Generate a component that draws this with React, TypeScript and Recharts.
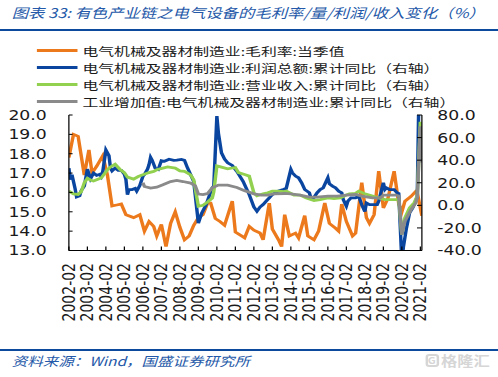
import React from 'react';
import { LineChart, Line, XAxis, YAxis } from 'recharts';

// ---------- data ----------
const marginDates = ['2002-02','2002-05','2002-08','2002-12','2003-03','2003-05','2003-08','2003-12','2004-03','2004-06','2004-09','2004-12','2005-03','2005-08','2005-12','2006-03','2006-06','2006-09','2006-11','2007-02','2007-05','2007-08','2007-11','2008-02','2008-05','2008-08','2008-11','2009-02','2009-05','2009-08','2009-10','2010-01','2010-04','2010-07','2010-12','2011-02','2011-06','2011-08','2011-11','2012-02','2012-06','2012-08','2012-12','2013-02','2013-06','2013-08','2013-10','2014-01','2014-05','2014-07','2014-11','2015-01','2015-05','2015-08','2015-12','2016-03','2016-07','2016-09','2016-11','2017-02','2017-06','2017-08','2017-12','2018-03','2018-05','2018-08','2018-11','2019-02','2019-05','2019-09','2019-12','2020-02','2020-04','2020-08','2020-11','2020-12','2021-03'];
const marginValues = [17.8,19.0,18.9,16.9,18.2,17.0,17.35,17.9,16.9,15.3,15.35,15.4,14.85,14.7,14.85,14.0,14.5,14.25,13.75,14.35,13.2,14.4,15.0,14.2,13.55,13.75,14.3,14.7,14.85,15.45,15.45,14.65,14.5,14.3,15.55,13.95,13.75,13.65,14.25,14.05,13.9,13.55,15.45,14.1,13.55,13.2,14.85,13.75,13.9,13.65,14.8,13.75,13.55,14.0,15.45,14.4,14.15,14.0,15.4,14.5,13.75,13.9,16.5,14.7,14.4,14.85,17.1,15.2,15.7,17.1,15.4,15.0,15.55,15.8,16.05,16.0,14.8];

const profitDates = ['2002-02','2002-03','2002-04','2002-06','2002-07','2002-09','2002-10','2002-12','2003-02','2003-04','2003-06','2003-08','2003-10','2003-11','2003-12','2004-02','2004-04','2004-05','2004-06','2004-08','2004-10','2004-12','2005-02','2005-03','2005-04','2005-05','2005-07','2005-09','2005-10','2005-12','2006-02','2006-03','2006-05','2006-06','2006-07','2006-08','2006-10','2006-12','2007-02','2007-04','2007-07','2007-10','2007-12','2008-03','2008-05','2008-07','2008-09','2008-11','2009-02','2009-04','2009-07','2009-09','2009-11','2009-12','2010-02','2010-03','2010-05','2010-07','2010-09','2010-12','2011-03','2011-05','2011-07','2011-09','2011-11','2012-02','2012-04','2012-06','2012-08','2012-10','2012-12','2013-02','2013-06','2013-09','2013-11','2014-02','2014-03','2014-05','2014-07','2014-09','2014-11','2015-02','2015-03','2015-05','2015-07','2015-09','2015-11','2016-02','2016-03','2016-05','2016-07','2016-09','2016-11','2016-12','2017-02','2017-03','2017-05','2017-08','2017-10','2017-12','2018-02','2018-03','2018-05','2018-08','2018-10','2018-11','2019-02','2019-03','2019-04','2019-06','2019-09','2019-11','2019-12','2020-02','2020-03','2020-05','2020-07','2020-09','2020-11','2020-12','2021-02','2021-03'];
const profitValues = [33,22.8,27,15,7.5,8.5,13,17,32,23.5,28.5,26.5,27.5,25.5,30,49,44,33,30.5,33,31,31,27.5,23,9.5,14,14,15,12.6,17.5,25.7,27.3,32,36,42.5,40,33,31.8,39.5,39,40.8,39.8,40,40.6,39.8,33,27,21,-15.7,-7.5,0.5,8.2,15.5,17,79,64,46.5,41,37.7,35.3,30,25.7,21.3,15.3,9.5,-1.5,-5.3,-1.6,0.7,3.7,6.6,9.6,12.6,14,15,31.8,28.8,25.9,24.4,20,14,11.1,6.6,7,11.1,14,15.5,24.4,19.1,17,15.5,12.6,11.1,5.1,-0.7,3.7,6.6,6.6,8.2,0.4,-5.5,2.2,0.7,0.7,0.7,3.7,20,14,15.5,14,14,11.1,10.5,-50,-37,-20,-6.7,-2.2,3.7,8,180,100];

const revenueDates = ['2002-02','2002-05','2002-08','2002-10','2002-12','2003-02','2003-04','2003-06','2003-08','2003-11','2004-03','2004-05','2004-08','2004-11','2005-02','2005-04','2005-08','2005-11','2006-02','2006-06','2006-09','2006-11','2007-03','2007-06','2007-11','2008-02','2008-05','2008-09','2008-11','2009-02','2009-05','2009-08','2009-11','2009-12','2010-02','2010-05','2010-09','2011-02','2011-04','2011-08','2011-11','2012-02','2012-04','2012-08','2012-11','2013-02','2013-06','2013-10','2013-11','2014-04','2014-08','2014-12','2015-05','2015-09','2016-02','2016-06','2016-10','2017-02','2017-04','2017-08','2017-10','2018-02','2018-07','2018-11','2019-03','2019-08','2019-11','2019-12','2020-02','2020-04','2020-07','2020-10','2020-12','2021-02','2021-03'];
const revenueValues = [12.6,10.2,9.6,12,20,24,22.5,21.5,22.6,24.3,31.5,34,36.5,32,29,25,23.2,25.5,27,29,30,31.5,33,34,33,30.5,30,27,22.5,-0.8,0,3,6.5,12,35,33.8,32.3,33.5,29,27.3,25.9,11,8.5,10.2,11.1,12.6,12.6,12.2,12.6,9.1,9.1,6.6,4.3,5.1,6.6,6.0,6.6,9.1,10.2,10.6,12.6,10.2,8.2,6.6,5.1,5.1,5.1,5.0,-25.9,-11.1,-2.2,2.2,8.2,74,57];

const valueAddedDates = ['2006-02','2006-03','2006-07','2006-11','2007-03','2007-08','2007-12','2008-04','2008-09','2008-12','2009-02','2009-05','2009-08','2009-11','2010-03','2010-09','2011-03','2011-08','2012-02','2012-07','2012-11','2013-03','2013-10','2014-02','2014-08','2015-02','2015-07','2016-02','2016-08','2017-02','2017-08','2017-12','2018-07','2018-12','2019-02','2019-10','2019-12','2020-02','2020-04','2020-08','2020-11','2020-12','2021-02','2021-03'];
const valueAddedValues = [20,16.7,15.3,16.1,18.2,21.1,22,21.1,19.7,17.3,10,9.5,10.5,15.5,17.9,17.9,15.8,13,10.2,9.1,9.1,10.2,10.5,10.2,9.1,7.3,7.3,8.2,8.2,9.1,9.6,8.2,6.6,6.6,9.1,9.1,8.2,-26,-14,-3.7,2.2,7,70,38];

const xTickYears = [2002,2003,2004,2005,2006,2007,2008,2009,2010,2011,2012,2013,2014,2015,2016,2017,2018,2019,2020,2021];
const leftTicks = [13,14,15,16,17,18,19,20];
const rightTicks = [-40,-20,0,20,40,60,80];

const seriesNames = [
  '电气机械及器材制造业:毛利率:当季值',
  '电气机械及器材制造业:利润总额:累计同比（右轴）',
  '电气机械及器材制造业:营业收入:累计同比（右轴）',
  '工业增加值:电气机械及器材制造业:累计同比（右轴）',
];
const seriesColors = ['#EC7A1C', '#0A45A0', '#92D050', '#8A8A8A'];

// ---------- helpers ----------
const toT = (s: string) => {
  const [y, m] = s.split('-').map(Number);
  return y + (m - 1) / 12;
};
const build = (dates: string[], vals: number[]) => dates.map((d, i) => ({ t: toT(d), v: vals[i] }));

const marginData = build(marginDates, marginValues);
const profitData = build(profitDates, profitValues);
const revenueData = build(revenueDates, revenueValues);
const valueAddedData = build(valueAddedDates, valueAddedValues);

const xTicks = xTickYears.map((y) => y + 1 / 12);
const X_MIN = 2002 + 1 / 12;
const X_MAX = 2021 + 2 / 12;

const SX = 1.23;
const W = 405;
const H = 377;
const NUM_FONT = '"DejaVu Sans", Verdana, sans-serif';
const CJK_FONT = '"Noto Sans CJK SC", "Noto Sans", sans-serif';
const BLUE = '#0c4a9e';
const LW = 2.8;

const XTick = (props: any) => {
  const { x, y, payload } = props;
  const yr = Math.round(payload.value - 1 / 12);
  return (
    <text
      x={x}
      y={y}
      transform={`rotate(-90, ${x}, ${y})`}
      textAnchor="end"
      dominantBaseline="central"
      fontSize={14}
      fontFamily={NUM_FONT}
      fill="#1a1a1a"
    >
      {`${yr}-02`}
    </text>
  );
};

const legendCenters = [50.7, 67.7, 84.7, 101.7];

export default function App() {
  return (
    <div style={{ position: 'absolute', left: 0, top: 0, width: 498, height: 377, overflow: 'hidden', background: '#fff' }}>
      <div style={{ position: 'absolute', left: 0, top: 0, width: W, height: H, transform: `scaleX(${SX})`, transformOrigin: '0 0' }}>
        <LineChart width={W} height={H} margin={{ top: 115, right: 0, bottom: 0, left: 0 }}>
          <XAxis
            xAxisId="x"
            type="number"
            dataKey="t"
            domain={[X_MIN, X_MAX]}
            allowDataOverflow
            ticks={xTicks}
            interval={0}
            height={126.5}
            tick={<XTick />}
            tickSize={-4}
            tickMargin={16.5}
            axisLine={{ stroke: '#000', strokeWidth: 1 }}
            tickLine={{ stroke: '#000', strokeWidth: 1 }}
          />
          <YAxis
            yAxisId="left"
            orientation="left"
            domain={[13, 20]}
            allowDataOverflow
            ticks={leftTicks}
            interval={0}
            width={56}
            tickFormatter={(v: number) => v.toFixed(1)}
            tick={{ fontSize: 14, fontFamily: NUM_FONT, fill: '#1a1a1a' }}
            tickSize={-3}
            tickMargin={21}
            axisLine={{ stroke: '#000', strokeWidth: 1 }}
            tickLine={{ stroke: '#000', strokeWidth: 1 }}
          />
          <YAxis
            yAxisId="right"
            orientation="right"
            domain={[-40, 80]}
            allowDataOverflow
            ticks={rightTicks}
            interval={0}
            width={62}
            tickFormatter={(v: number) => v.toFixed(1)}
            tick={{ fontSize: 14, fontFamily: NUM_FONT, fill: '#1a1a1a', textAnchor: 'start' }}
            tickSize={-4}
            tickMargin={16.5}
            axisLine={{ stroke: '#000', strokeWidth: 1 }}
            tickLine={{ stroke: '#000', strokeWidth: 1 }}
          />
          <Line xAxisId="x" yAxisId="left" data={marginData} dataKey="v" type="linear" stroke={seriesColors[0]} strokeWidth={LW} dot={false} isAnimationActive={false} />
          <Line xAxisId="x" yAxisId="right" data={profitData} dataKey="v" type="linear" stroke={seriesColors[1]} strokeWidth={LW} dot={false} isAnimationActive={false} />
          <Line xAxisId="x" yAxisId="right" data={revenueData} dataKey="v" type="linear" stroke={seriesColors[2]} strokeWidth={LW} dot={false} isAnimationActive={false} />
          <Line xAxisId="x" yAxisId="right" data={valueAddedData} dataKey="v" type="linear" stroke={seriesColors[3]} strokeWidth={LW} dot={false} isAnimationActive={false} />
        </LineChart>

        {/* title */}
        <div style={{ position: 'absolute', left: 9.5, top: 6, fontFamily: CJK_FONT, fontSize: 13.3, lineHeight: '14px', fontStyle: 'italic', color: '#2458a8', whiteSpace: 'nowrap' }}>
          图表 33: 有色产业链之电气设备的毛利率/量/利润/收入变化（%）
        </div>
        <div style={{ position: 'absolute', left: 0, top: 28.8, width: W, height: 2.6, background: BLUE }} />

        {/* legend */}
        {seriesNames.map((name, i) => (
          <div key={name} style={{ position: 'absolute', left: 0, top: legendCenters[i] - 6, height: 12, width: W }}>
            <div style={{ position: 'absolute', left: 30, top: 4.4, width: 32.5, height: 3.2, background: seriesColors[i] }} />
            <div style={{ position: 'absolute', left: 66.5, top: 0.3, fontFamily: CJK_FONT, fontSize: 11.6, lineHeight: '12px', color: '#1a1a1a', whiteSpace: 'nowrap', transform: 'scaleX(1.11)', transformOrigin: '0 50%' }}>
              {name}
            </div>
          </div>
        ))}

        {/* footer */}
        <div style={{ position: 'absolute', left: 0, top: 348.8, width: W, height: 1.8, background: BLUE }} />
        <div style={{ position: 'absolute', left: 9.5, top: 354, fontFamily: CJK_FONT, fontSize: 12.6, lineHeight: '13px', fontStyle: 'italic', color: '#2458a8', whiteSpace: 'nowrap' }}>
          资料来源：Wind，国盛证券研究所
        </div>
        <div style={{ position: 'absolute', left: 345.5, top: 352.5, height: 15, display: 'flex', alignItems: 'center', color: '#d6d6d6', fontFamily: CJK_FONT, fontWeight: 700, fontSize: 13.2, lineHeight: '13px', whiteSpace: 'nowrap' }}>
          <span style={{ display: 'inline-block', width: 11, height: 13, border: '2px solid #d6d6d6', borderRadius: 3, boxSizing: 'border-box', marginRight: 2, fontSize: 9, lineHeight: '9px', textAlign: 'center' }}>G</span>
          格隆汇
        </div>
      </div>
    </div>
  );
}
